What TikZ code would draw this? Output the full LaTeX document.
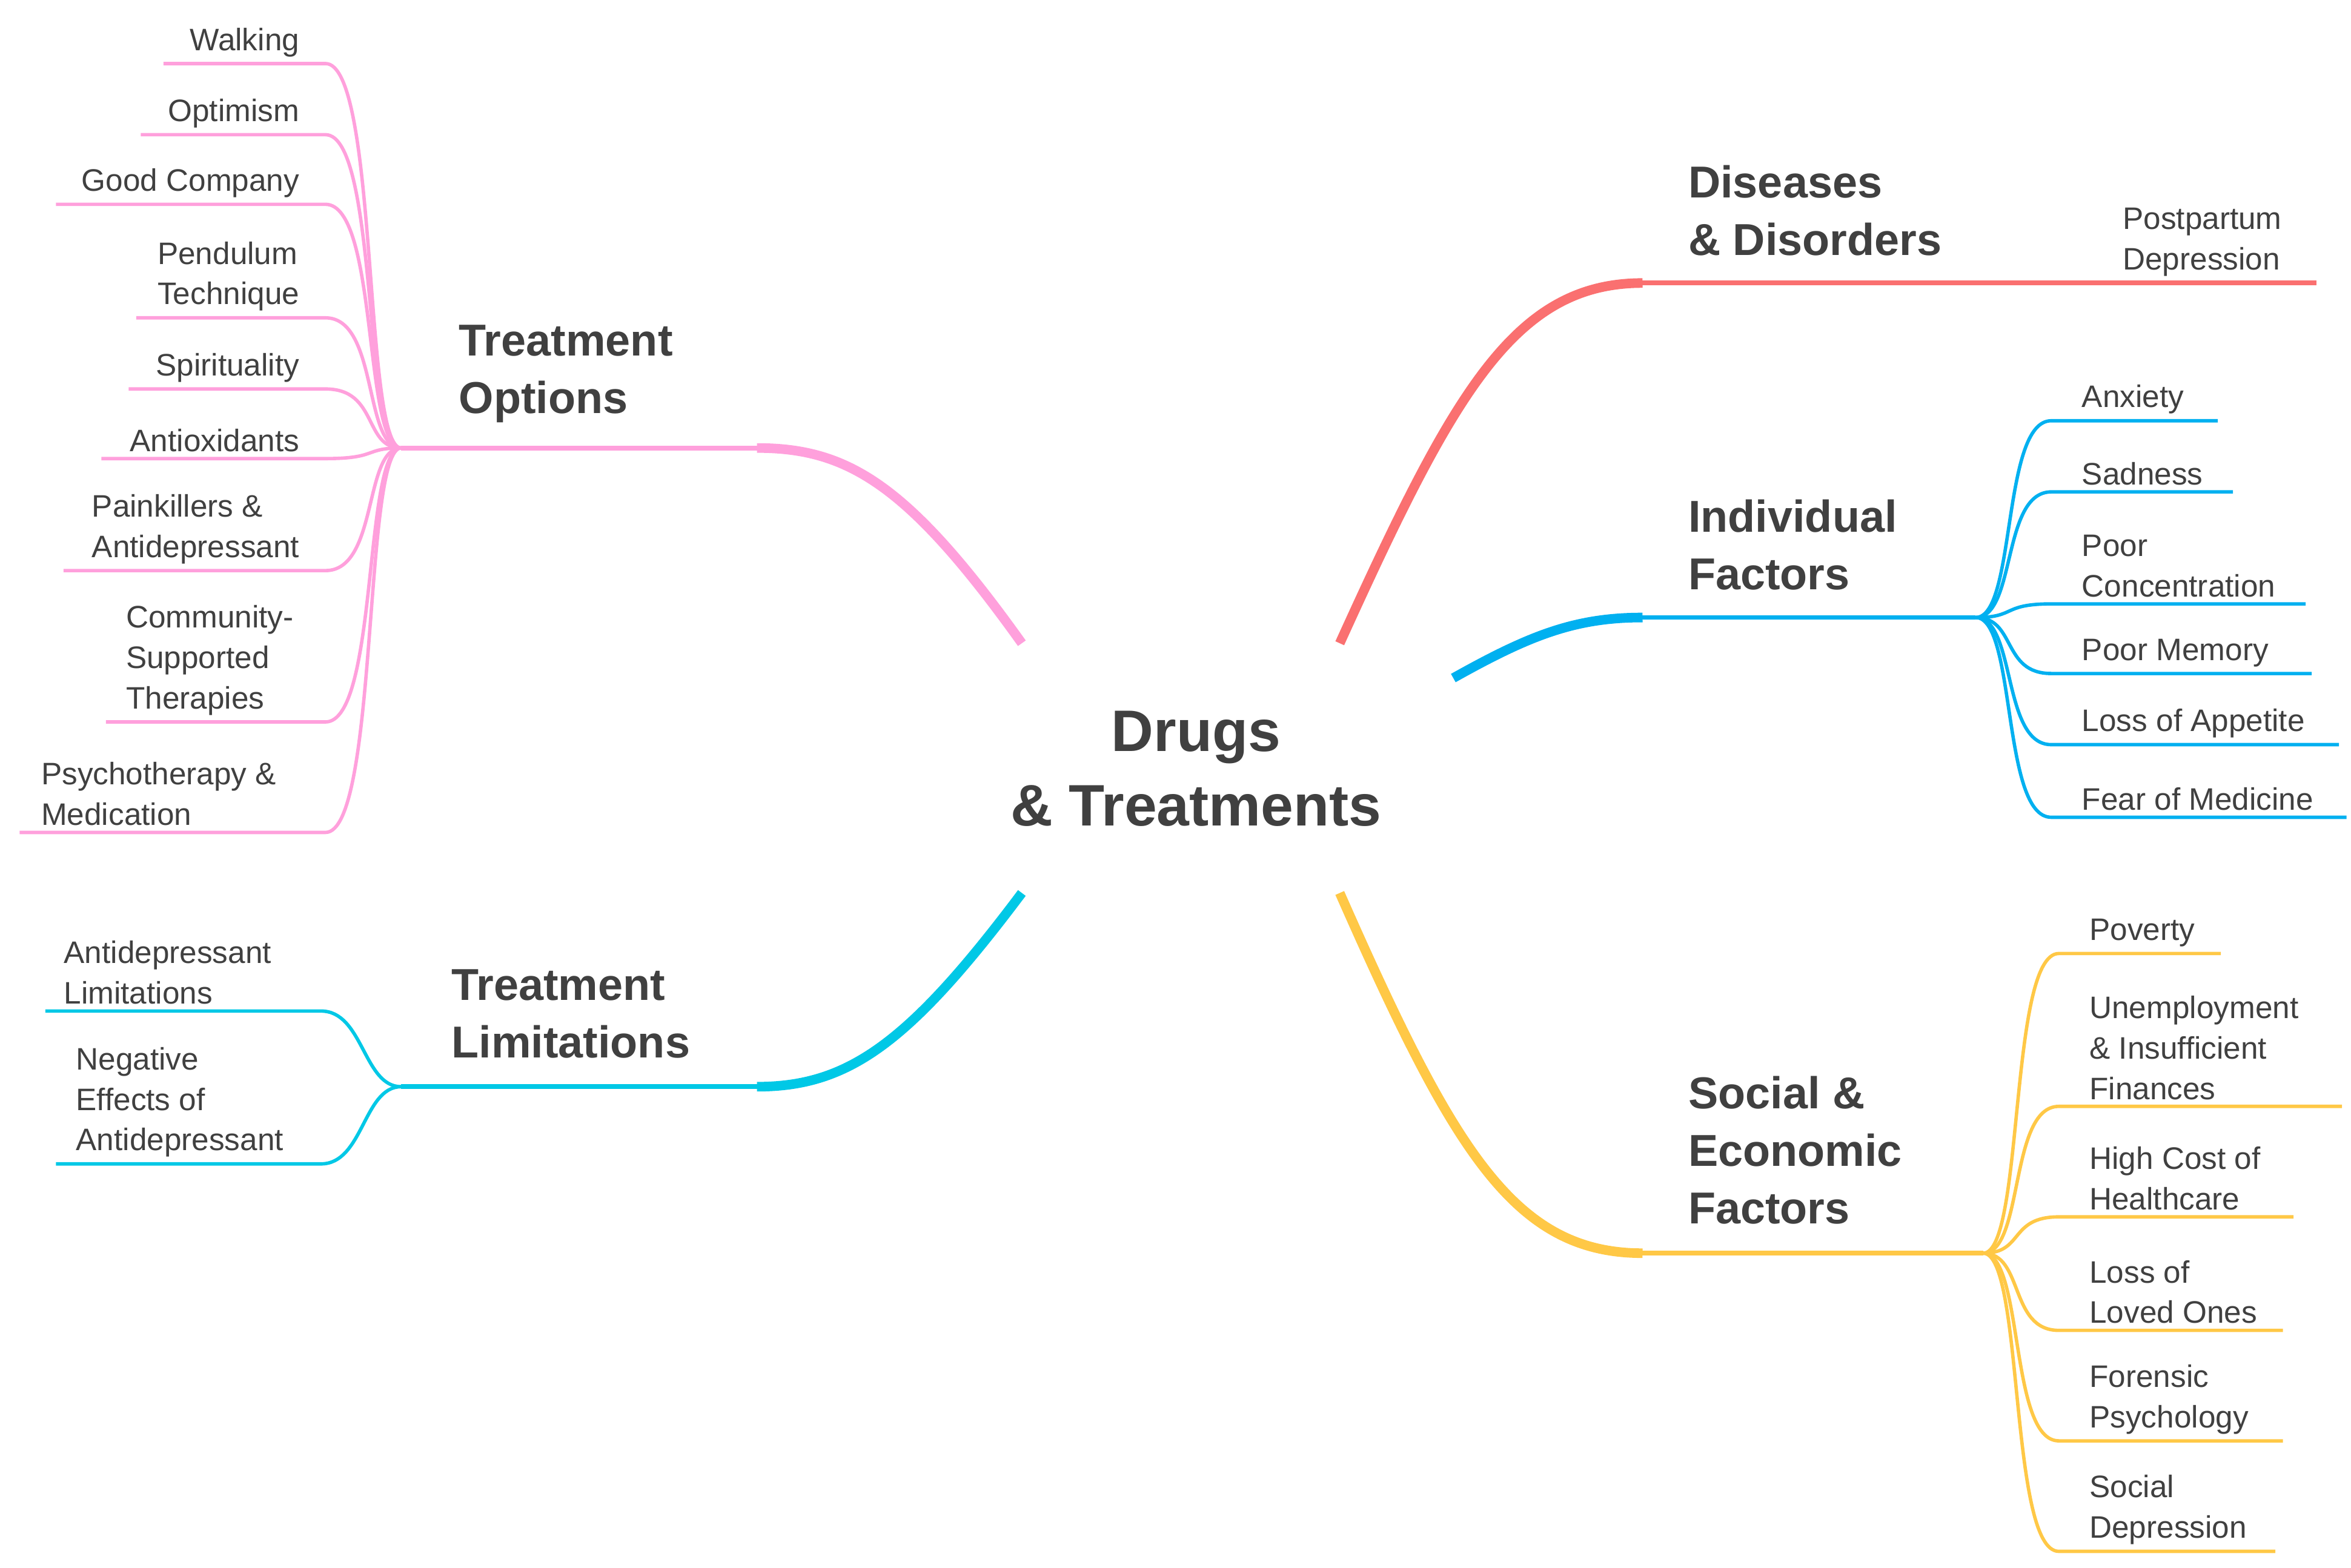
\documentclass[tikz,border=0pt]{standalone}
\usepackage{fontspec}
\setmainfont{Liberation Sans}
\usetikzlibrary{positioning}
\definecolor{txt}{RGB}{64,64,64}
\definecolor{cred}{RGB}{250,112,112}
\definecolor{cblue}{RGB}{0,176,240}
\definecolor{cyel}{RGB}{255,200,70}
\definecolor{cpink}{RGB}{255,160,220}
\definecolor{ccyan}{RGB}{0,200,230}
\begin{document}
\begin{tikzpicture}[
x=0.025cm, y=-0.025cm,
leaf/.style={text=txt, font=\fontsize{14.6}{19}\selectfont, align=left, inner xsep=0pt, inner ysep=3pt},
topic/.style={text=txt, font=\fontsize{21}{27}\selectfont\bfseries, align=left, inner sep=0pt},
trunk/.style={line width=4.5pt, line cap=butt},
twig/.style={line width=1.6pt},
]
\useasboundingbox (0,0) rectangle (1553,1036);
%% centre
\node[text=txt, font=\fontsize{27.5}{35}\selectfont\bfseries, align=center] (C) at (790,508) {Drugs\\\& Treatments};

%% diseases & disorders
\coordinate (r0) at (885,425);
\coordinate (r1) at (1085,187);
\coordinate (r2) at (1530,187);
\node[topic, anchor=west] (dd) at (1115,139) {Diseases\\\& Disorders};
\node[leaf, anchor=south west] (pp) at (1402,187) {Postpartum\\Depression};
\draw[cred, trunk] (r0) .. controls (960,260) and (1000,187) .. (r1);
\draw[cred, twig, line width=2.2pt] (r1) -- (r2);

%% individual factors
\coordinate (b0) at (960,448);
\coordinate (b1) at (1085,408);
\coordinate (ih) at (1305,408);
\node[topic, anchor=west] (ind) at (1115,360) {Individual\\Factors};
\draw[cblue, trunk] (b0) .. controls (1010,420) and (1040,408) .. (b1);
\draw[cblue, twig, line width=2.2pt] (b1) -- (ih);
\node[leaf, anchor=south west] (anx) at (1375,278) {Anxiety};
\node[leaf, anchor=south west] (sad) at (1375,325) {Sadness};
\node[leaf, anchor=south west] (pc) at (1375,399) {Poor\\Concentration};
\node[leaf, anchor=south west] (pm) at (1375,445) {Poor Memory};
\node[leaf, anchor=south west] (la) at (1375,492) {Loss of Appetite};
\node[leaf, anchor=south west] (fm) at (1375,540) {Fear of Medicine};
\coordinate (anxE) at (1465,278);
\coordinate (sadE) at (1475,325);
\coordinate (pcE) at (1523,399);
\coordinate (pmE) at (1527,445);
\coordinate (laE) at (1545,492);
\coordinate (fmE) at (1550,540);
\draw[cblue, twig] (ih) .. controls (1332,408) and (1322,278) .. (1355,278) -- (anxE);
\draw[cblue, twig] (ih) .. controls (1332,408) and (1322,325) .. (1355,325) -- (sadE);
\draw[cblue, twig] (ih) .. controls (1332,408) and (1322,399) .. (1355,399) -- (pcE);
\draw[cblue, twig] (ih) .. controls (1332,408) and (1322,445) .. (1355,445) -- (pmE);
\draw[cblue, twig] (ih) .. controls (1332,408) and (1322,492) .. (1355,492) -- (laE);
\draw[cblue, twig] (ih) .. controls (1332,408) and (1322,540) .. (1355,540) -- (fmE);

%% social & economic factors
\coordinate (y0) at (885,590);
\coordinate (y1) at (1085,828);
\coordinate (sh) at (1310,828);
\node[topic, anchor=west] (soc) at (1115,760) {Social \&\\Economic\\Factors};
\draw[cyel, trunk] (y0) .. controls (960,760) and (1000,828) .. (y1);
\draw[cyel, twig, line width=2.2pt] (y1) -- (sh);
\node[leaf, anchor=south west] (pov) at (1380,630) {Poverty};
\node[leaf, anchor=south west] (une) at (1380,731) {Unemployment\\\& Insufficient\\Finances};
\node[leaf, anchor=south west] (hc) at (1380,804) {High Cost of\\Healthcare};
\node[leaf, anchor=south west] (llo) at (1380,879) {Loss of\\Loved Ones};
\node[leaf, anchor=south west] (fp) at (1380,952) {Forensic\\Psychology};
\node[leaf, anchor=south west] (sd) at (1380,1025) {Social\\Depression};
\coordinate (povE) at (1467,630);
\coordinate (uneE) at (1547,731);
\coordinate (hcE) at (1515,804);
\coordinate (lloE) at (1508,879);
\coordinate (fpE) at (1508,952);
\coordinate (sdE) at (1503,1025);
\draw[cyel, twig] (sh) .. controls (1337,828) and (1327,630) .. (1360,630) -- (povE);
\draw[cyel, twig] (sh) .. controls (1337,828) and (1327,731) .. (1360,731) -- (uneE);
\draw[cyel, twig] (sh) .. controls (1337,828) and (1327,804) .. (1360,804) -- (hcE);
\draw[cyel, twig] (sh) .. controls (1337,828) and (1327,879) .. (1360,879) -- (lloE);
\draw[cyel, twig] (sh) .. controls (1337,828) and (1327,952) .. (1360,952) -- (fpE);
\draw[cyel, twig] (sh) .. controls (1337,828) and (1327,1025) .. (1360,1025) -- (sdE);

%% treatment options
\coordinate (p0) at (675,425);
\coordinate (p1) at (500,296);
\coordinate (oh) at (265,296);
\node[topic, anchor=west] (to) at (303,247) {Treatment\\Options};
\draw[cpink, trunk] (p0) .. controls (600,320) and (560,296) .. (p1);
\draw[cpink, twig, line width=2.2pt] (p1) -- (oh);
\node[leaf, anchor=south east, align=right] (wa) at (198,42) {Walking};
\node[leaf, anchor=south east, align=right] (op) at (198,89) {Optimism};
\node[leaf, anchor=south east, align=right] (gc) at (198,135) {Good Company};
\node[leaf, anchor=south east, align=left] (pt) at (198,210) {Pendulum\\Technique};
\node[leaf, anchor=south east, align=right] (sp) at (198,257) {Spirituality};
\node[leaf, anchor=south east, align=right] (ao) at (198,303) {Antioxidants};
\node[leaf, anchor=south east, align=left] (pa) at (198,377) {Painkillers \&\\Antidepressant};
\node[leaf, anchor=south west] (cs) at (83,477) {Community-\\Supported\\Therapies};
\node[leaf, anchor=south west] (pmd) at (27,550) {Psychotherapy \&\\Medication};
\coordinate (waE) at (108,42);
\coordinate (opE) at (93,89);
\coordinate (gcE) at (37,135);
\coordinate (ptE) at (90,210);
\coordinate (spE) at (85,257);
\coordinate (aoE) at (67,303);
\coordinate (paE) at (42,377);
\coordinate (csE) at (70,477);
\coordinate (pmdE) at (13,550);
\draw[cpink, twig] (oh) .. controls (240,296) and (250,42) .. (215,42) -- (waE);
\draw[cpink, twig] (oh) .. controls (240,296) and (250,89) .. (215,89) -- (opE);
\draw[cpink, twig] (oh) .. controls (240,296) and (250,135) .. (215,135) -- (gcE);
\draw[cpink, twig] (oh) .. controls (240,296) and (250,210) .. (215,210) -- (ptE);
\draw[cpink, twig] (oh) .. controls (240,296) and (250,257) .. (215,257) -- (spE);
\draw[cpink, twig] (oh) .. controls (240,296) and (250,303) .. (215,303) -- (aoE);
\draw[cpink, twig] (oh) .. controls (240,296) and (250,377) .. (215,377) -- (paE);
\draw[cpink, twig] (oh) .. controls (240,296) and (250,477) .. (215,477) -- (csE);
\draw[cpink, twig] (oh) .. controls (240,296) and (250,550) .. (215,550) -- (pmdE);

%% treatment limitations
\coordinate (c0) at (675,590);
\coordinate (c1) at (500,718);
\coordinate (lh) at (265,718);
\node[topic, anchor=west] (tl) at (298,670) {Treatment\\Limitations};
\draw[ccyan, trunk] (c0) .. controls (600,690) and (560,718) .. (c1);
\draw[ccyan, twig, line width=2.2pt] (c1) -- (lh);
\node[leaf, anchor=south west] (al) at (42,668) {Antidepressant\\Limitations};
\node[leaf, anchor=south west] (ne) at (50,769) {Negative\\Effects of\\Antidepressant};
\coordinate (alE) at (30,668);
\coordinate (neE) at (37,769);
\draw[ccyan, twig] (lh) .. controls (240,718) and (240,668) .. (212,668) -- (alE);
\draw[ccyan, twig] (lh) .. controls (240,718) and (240,769) .. (212,769) -- (neE);
\end{tikzpicture}
\end{document}
